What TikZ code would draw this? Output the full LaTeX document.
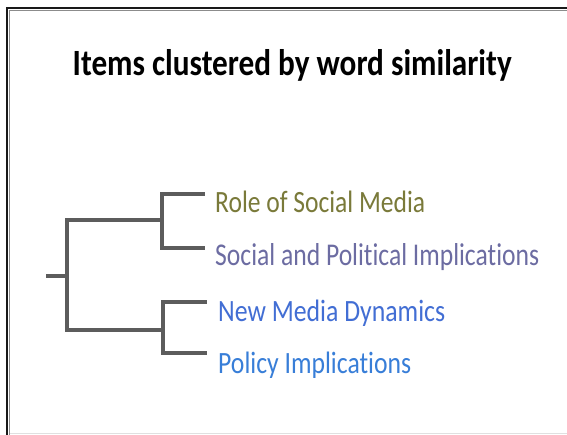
\documentclass[tikz,border=0pt]{standalone}
\usepackage{fontspec}
\setmainfont{Carlito}[Ligatures=NoCommon]
\definecolor{branch}{RGB}{92,92,92}
\definecolor{cOlive}{RGB}{122,122,58}
\definecolor{cPurple}{RGB}{108,108,162}
\definecolor{cBlueA}{RGB}{66,110,212}
\definecolor{cBlueB}{RGB}{56,126,216}
\tikzset{
  branchline/.style={draw=branch, line width=3.2pt, line cap=rect, line join=miter},
  leaflabel/.style={anchor=base west, inner sep=0pt, font=\fontsize{20}{24}\selectfont},
}
\begin{document}
\begin{tikzpicture}[x=1pt,y=-1pt]
\useasboundingbox (0,0) rectangle (567,435);
\fill[white] (0,0) rectangle (567,435);
% frame
\draw[black!90, line width=2.2pt] (7,436) -- (7,8) -- (567,8);
\draw[black!45, line width=1pt] (9.6,436) -- (9.6,10.6) -- (567,10.6);
\draw[black!12, line width=1pt] (10,433.5) -- (567,433.5);

% title
\node[anchor=base west, inner sep=0pt] (title) at (72.5,76)
  {\resizebox{439pt}{26pt}{\bfseries Items clustered by word similarity}};

% labels
\node[leaflabel, text=cOlive] (l1) at (215,213)
  {\resizebox{210pt}{21.5pt}{Role of Social Media}};
\node[leaflabel, text=cPurple] (l2) at (215,265.5)
  {\resizebox{324pt}{22pt}{Social and Political Implications}};
\node[leaflabel, text=cBlueA] (l3) at (218,321)
  {\resizebox{227pt}{21.5pt}{New Media Dynamics}};
\node[leaflabel, text=cBlueB] (l4) at (218,373)
  {\resizebox{193pt}{21.5pt}{Policy Implications}};

% dendrogram coordinates
\coordinate (root) at (48,276);
\coordinate (top) at (67,276);
\coordinate (jA) at (162,220);
\coordinate (jB) at (163,330);
\coordinate (e1) at (203,194);
\coordinate (e2) at (203,248);
\coordinate (e3) at (205,302);
\coordinate (e4) at (205,353);

\draw[branchline] (root) -- (top);
\draw[branchline] (jA) -| (top) |- (jB);
\draw[branchline] (e1) -| (jA) |- (e2);
\draw[branchline] (e3) -| (jB) |- (e4);
\end{tikzpicture}
\end{document}
